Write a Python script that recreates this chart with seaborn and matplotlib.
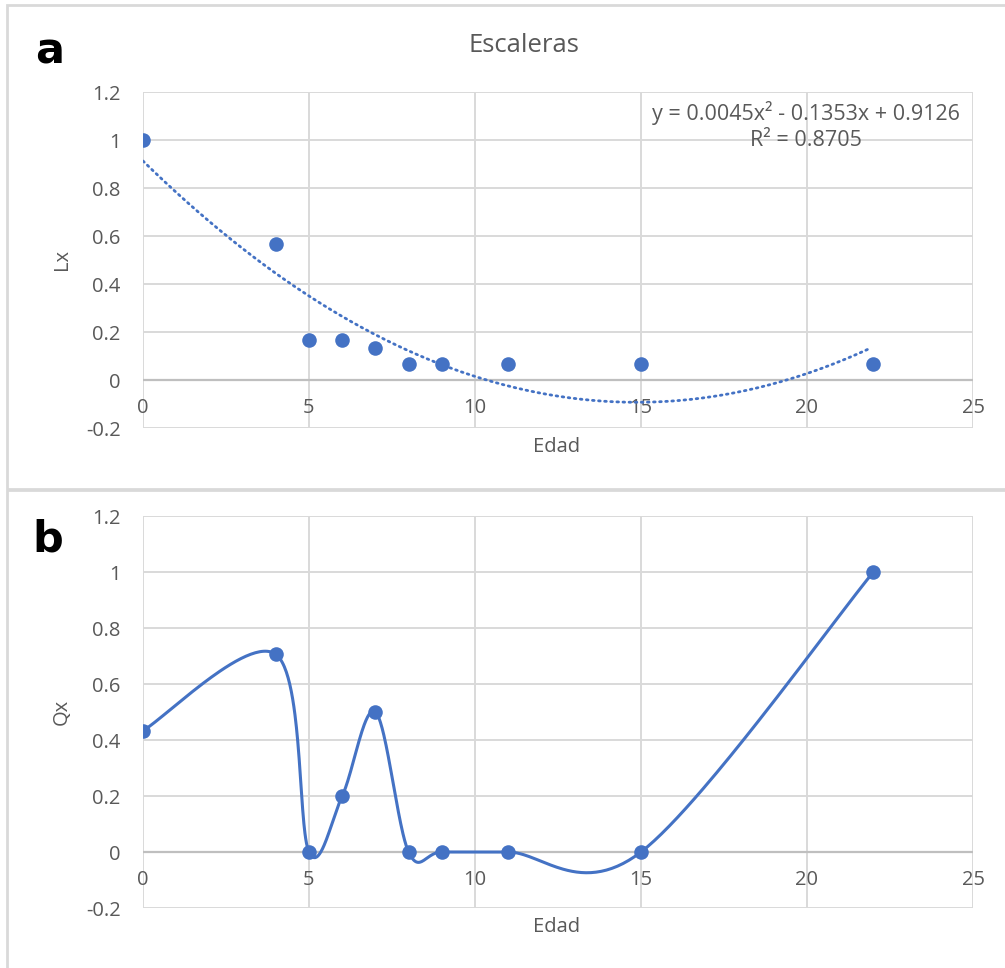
import numpy as np
import pandas as pd
import matplotlib
matplotlib.use("Agg")
import matplotlib.pyplot as plt
import matplotlib.transforms as mtransforms
from matplotlib.patches import Rectangle
import seaborn as sns

# ---- data ----
edad = [0, 4, 5, 6, 7, 8, 9, 11, 15, 22]
lx = [1.0, 0.5667, 0.1667, 0.1667, 0.1333, 0.0667, 0.0667, 0.0667, 0.0667, 0.0667]
qx = [0.4333, 0.7059, 0.0, 0.2, 0.5, 0.0, 0.0, 0.0, 0.0, 1.0]
x_ticks = [0, 5, 10, 15, 20, 25]
y_ticks = [-0.2, 0, 0.2, 0.4, 0.6, 0.8, 1, 1.2]
y_tick_labels = ["-0.2", "0", "0.2", "0.4", "0.6", "0.8", "1", "1.2"]
title_a = "Escaleras"
eq_text = "y = 0.0045x² - 0.1353x + 0.9126"
r2_text = "R² = 0.8705"

sns.set_theme(style="white")
plt.rcParams['font.family'] = ['Open Sans', 'DejaVu Sans']

BLUE = "#4472C4"
GRID = "#d9d9d9"
TXT = "#595959"
FS = 14.5

W, H = 1005, 968
fig = plt.figure(figsize=(W / 100, H / 100), dpi=100)


def fx(px):
    return px / W


def fy(py):
    return 1 - py / H


# panel borders
fig.patches.append(Rectangle((fx(7), fy(489)), fx(1010 - 7), fy(5) - fy(489),
                             transform=fig.transFigure, fill=False,
                             edgecolor=GRID, lw=2))
fig.patches.append(Rectangle((fx(7), fy(975)), fx(1010 - 7), fy(490) - fy(975),
                             transform=fig.transFigure, fill=False,
                             edgecolor=GRID, lw=2))


def make_axes(top, bottom):
    ax = fig.add_axes([fx(143), fy(bottom), fx(973 - 143), fy(top) - fy(bottom)])
    ax.set_xlim(0, 25)
    ax.set_ylim(-0.2, 1.2)
    ax.set_yticks(y_ticks)
    ax.set_yticklabels(y_tick_labels)
    ax.set_xticks(x_ticks)
    ax.tick_params(axis='y', length=0, pad=16, labelsize=FS, labelcolor=TXT)
    ax.tick_params(axis='x', length=0, labelbottom=False)
    for s in ax.spines.values():
        s.set_visible(False)
    ax.grid(True, color=GRID, lw=1.4, zorder=0)
    ax.axhline(0, color="#bfbfbf", lw=1.6, zorder=1)
    ax.set_axisbelow(True)
    off = mtransforms.offset_copy(ax.transData, fig=fig, x=0, y=-28, units='dots')
    for t in x_ticks:
        ax.text(t, 0, str(t), transform=off, ha='center', va='center',
                fontsize=FS, color=TXT)
    return ax


# ---- panel a ----
ax1 = make_axes(92, 428)
df = pd.DataFrame({"Edad": edad, "Lx": lx, "Qx": qx})
coef = np.polyfit(edad, lx, 2)
xs = np.linspace(0, 21.9, 200)
trend = pd.DataFrame({"x": xs, "y": np.polyval(coef, xs)})
sns.lineplot(data=trend, x="x", y="y", ax=ax1, color=BLUE, lw=2,
             linestyle=(0, (0.6, 1.6)), dash_capstyle='round', zorder=3)
sns.scatterplot(data=df, x="Edad", y="Lx", ax=ax1, color=BLUE, s=110,
                edgecolor=BLUE, linewidth=0, zorder=4)
ax1.set_xlabel("")
ax1.set_ylabel("")

fig.text(fx(524), fy(45), title_a, ha='center', va='center', fontsize=18.5, color=TXT)
fig.text(fx(806), fy(113), eq_text, ha='center', va='center', fontsize=15.5, color=TXT)
fig.text(fx(806), fy(140), r2_text, ha='center', va='center', fontsize=15.5, color=TXT)
fig.text(fx(557), fy(447), "Edad", ha='center', va='center', fontsize=FS, color=TXT)
fig.text(fx(62), fy(260), "Lx", ha='center', va='center', fontsize=FS, color=TXT, rotation=90)
fig.text(fx(50), fy(52), "a", ha='center', va='center', fontsize=31, fontweight='bold',
         color='black', family='DejaVu Sans')

# ---- panel b ----
ax2 = make_axes(516, 908)

# Excel-style smooth line: cubic Bezier through points (Catmull-Rom control points)
P = np.column_stack([edad, qx]).astype(float)
n = len(P)
curve = []
tt = np.linspace(0, 1, 60)
for i in range(n - 1):
    p0 = P[max(i - 1, 0)]
    p1 = P[i]
    p2 = P[i + 1]
    p3 = P[min(i + 2, n - 1)]
    c1 = p1 + (p2 - p0) / 6.0
    c2 = p2 - (p3 - p1) / 6.0
    seg = ((1 - tt)[:, None] ** 3 * p1 + 3 * ((1 - tt) ** 2 * tt)[:, None] * c1
           + 3 * ((1 - tt) * tt ** 2)[:, None] * c2 + (tt ** 3)[:, None] * p2)
    curve.append(seg if i == 0 else seg[1:])
curve = np.vstack(curve)
cdf = pd.DataFrame({"x": curve[:, 0], "y": curve[:, 1], "o": np.arange(len(curve))})
sns.lineplot(data=cdf, x="x", y="y", ax=ax2, sort=False, estimator=None,
             color=BLUE, lw=2.2, zorder=3)
sns.scatterplot(data=df, x="Edad", y="Qx", ax=ax2, color=BLUE, s=110,
                edgecolor=BLUE, linewidth=0, zorder=4)
ax2.set_xlabel("")
ax2.set_ylabel("")

fig.text(fx(557), fy(927), "Edad", ha='center', va='center', fontsize=FS, color=TXT)
fig.text(fx(62), fy(712), "Qx", ha='center', va='center', fontsize=FS, color=TXT, rotation=90)
fig.text(fx(48), fy(540), "b", ha='center', va='center', fontsize=31, fontweight='bold',
         color='black', family='DejaVu Sans')

fig.savefig("out.png", dpi=100, facecolor='white')
